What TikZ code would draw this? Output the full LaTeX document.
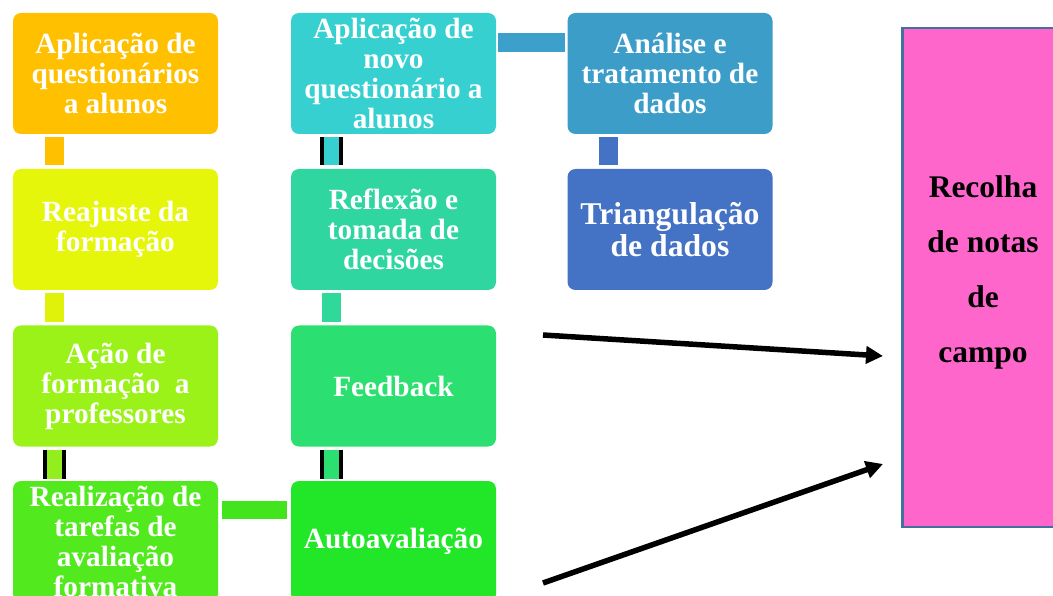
\documentclass[tikz,border=0pt]{standalone}
\usepackage{fontspec}
\setmainfont{Liberation Serif}
\usetikzlibrary{arrows.meta,calc}
\definecolor{cOrange}{HTML}{FFC000}
\definecolor{cYellow}{HTML}{E6F60A}
\definecolor{cLime}{HTML}{9BF218}
\definecolor{cGreenA}{HTML}{52EA1E}
\definecolor{cCyan}{HTML}{36D0D0}
\definecolor{cTeal}{HTML}{30D6A0}
\definecolor{cGreenB}{HTML}{2BE070}
\definecolor{cGreenC}{HTML}{22E628}
\definecolor{cSky}{HTML}{3C9DC9}
\definecolor{cBlue}{HTML}{4472C4}
\definecolor{cPink}{HTML}{FF66CC}
\definecolor{cEdge}{HTML}{41719C}
\definecolor{kYellow}{HTML}{E0F20A}
\definecolor{kLime}{HTML}{92EE1C}
\definecolor{kGreen}{HTML}{42E41E}
\definecolor{kTeal}{HTML}{30D99A}
\definecolor{kSky}{HTML}{3CA0CA}
\begin{document}
\begin{tikzpicture}[x=1pt,y=-1pt,
  box/.style={rectangle, rounded corners=8pt, minimum width=205pt, minimum height=121pt,
    inner sep=0pt, align=center, text=white, font={\rmfamily\bfseries\fontsize{29.3}{30}\selectfont}},
  conn/.style={line width=19pt},
  bconn/.style={draw=black, line width=4pt, double distance=15pt},
  arr/.style={line width=5.5pt, -{Triangle[length=17pt,width=17pt]}}
]
\useasboundingbox (0,0) rectangle (1053,596);
\clip (0,0) rectangle (1053,596);

% column 1
\node[box, fill=cOrange] (a1) at (115.5,73.5) {Aplicação de\\questionários\\a alunos};
\node[box, fill=cYellow] (a2) at (115.5,229.5) {Reajuste da\\formação};
\node[box, fill=cLime]   (a3) at (115.5,386) {Ação de\\formação\ \ a\\professores};
\node[box, fill=cGreenA] (a4) at (115.5,541.5) {Realização de\\tarefas de\\avaliação\\formativa};

% column 2
\node[box, fill=cCyan]   (b1) at (393.5,73.5) {Aplicação de\\novo\\questionário a\\alunos};
\node[box, fill=cTeal]   (b2) at (393.5,229.5) {Reflexão e\\tomada de\\decisões};
\node[box, fill=cGreenB] (b3) at (393.5,386) {Feedback};
\node[box, fill=cGreenC] (b4) at (393.5,541.5) {Autoavaliação};

% column 3
\node[box, fill=cSky]  (c1) at (670,73.5) {Análise e\\tratamento de\\dados};
\node[box, fill=cBlue, font={\rmfamily\bfseries\fontsize{31.7}{32}\selectfont}] (c2) at (670,229.5) {Triangulação\\de dados};

% pink box
\node[rectangle, fill=cPink, draw=cEdge, line width=2.5pt, minimum width=162pt, minimum height=499pt, inner sep=0pt] (pink) at (983.5,277.5) {};
\node[align=center, inner sep=0pt, font={\rmfamily\bfseries\fontsize{31.5}{55}\selectfont}] (pinktext) at (983,272) {Recolha\\de notas\\de\\campo};

% vertical connectors
\draw[conn, cOrange] ($(a1.south west)+(41.5,3)$) -- ($(a2.north west)+(41.5,-4)$);
\draw[conn, kYellow] ($(a2.south west)+(41.5,3)$) -- ($(a3.north west)+(41.5,-3)$);
\draw[bconn, double=kLime] ($(a3.south west)+(41.5,3)$) -- ($(a4.north west)+(41.5,-2)$);
\draw[bconn, double=cCyan] ($(b1.south west)+(40.5,3)$) -- ($(b2.north west)+(40.5,-4)$);
\draw[conn, kTeal] ($(b2.south west)+(40.5,3)$) -- ($(b3.north west)+(40.5,-3)$);
\draw[bconn, double=cGreenB] ($(b3.south west)+(40.5,3)$) -- ($(b4.north west)+(40.5,-2)$);
\draw[conn, cBlue] ($(c1.south west)+(41.5,3)$) -- ($(c2.north west)+(41.5,-4)$);

% horizontal connectors
\draw[line width=18pt, kGreen] ($(a4.north east)+(4,29)$) -- ($(b4.north west)+(-4,29)$);
\draw[conn, kSky] ($(b1.north east)+(2,29.5)$) -- ($(c1.north west)+(-2,29.5)$);

% arrows
\coordinate (s1) at (543,335);
\coordinate (e1) at (883,356);
\coordinate (s2) at (543,583);
\coordinate (e2) at (883,464);
\draw[arr] (s1) -- (e1);
\draw[arr] (s2) -- (e2);
\end{tikzpicture}
\end{document}
